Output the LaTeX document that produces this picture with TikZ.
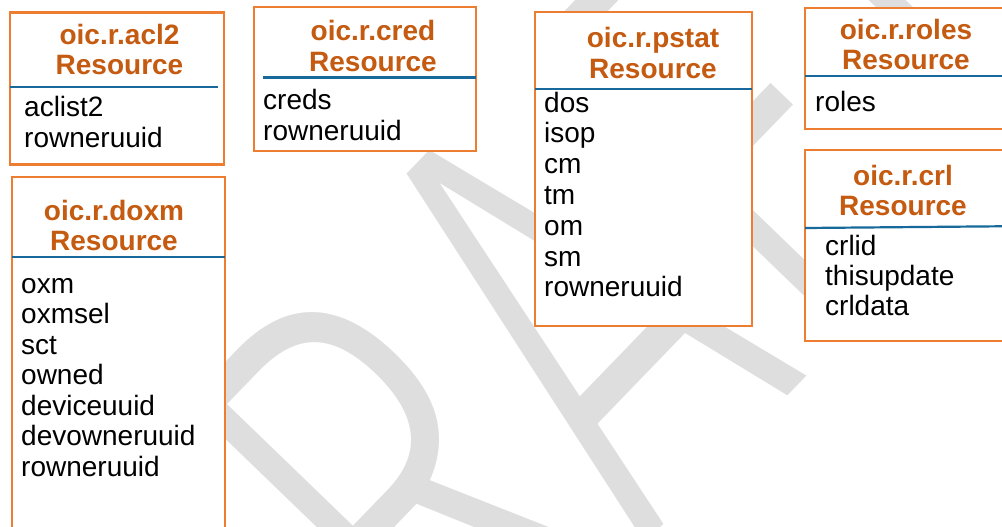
\documentclass[tikz,border=0pt]{standalone}
\usepackage{fontspec}
\setmainfont{Liberation Sans}
\newfontfamily\draftfont{Fira Sans Light}
\usepackage{tikz}
\usepackage{xcolor}
\definecolor{boxline}{HTML}{ED7D31}
\definecolor{titletext}{HTML}{C55A11}
\definecolor{divline}{HTML}{17699B}
\definecolor{draftgray}{HTML}{DEDEDE}

\begin{document}
\begin{tikzpicture}[
    x=1pt, y=-1pt,
    resbox/.style={draw=boxline, line width=2.5pt, fill=white, anchor=north west, inner sep=0, outer sep=0},
    restitle/.style={anchor=base, inner sep=0, text=titletext, font=\fontsize{28}{30}\selectfont\bfseries},
    resitem/.style={anchor=base west, inner sep=0, font=\fontsize{28}{30}\selectfont},
    divider/.style={draw=divline, line width=2.2pt},
    draftmark/.style={inner sep=0, text=draftgray, font=\draftfont\fontsize{625}{625}\selectfont}
]
\useasboundingbox (0,0) rectangle (1002,527);
\clip (0,0) rectangle (1002,527);

% watermark, behind everything
\node[draftmark, rotate=46, xscale=0.7] (draft) at (535,350) {DRAFT};

% acl2
\node[resbox, minimum width=214pt, minimum height=152pt] (acl2) at (10,12.5) {};
\node[restitle] (acl2-name) at (119.5,45) {oic.r.acl2};
\node[restitle] (acl2-res) at (119.5,75) {Resource};
\draw[divider] (10,87) -- (218,87);
\foreach \prop [count=\i] in {aclist2, rowneruuid}
    \node[resitem] (acl2-\i) at (24, 87+30*\i) {\prop};

% cred
\node[resbox, minimum width=222pt, minimum height=144pt] (cred) at (254,7) {};
\node[restitle] (cred-name) at (373,40.7) {oic.r.cred};
\node[restitle] (cred-res) at (373,71.7) {Resource};
\draw[divider] (263,77.5) -- (476,77.5);
\foreach \prop [count=\i] in {creds, rowneruuid}
    \node[resitem] (cred-\i) at (263, 80+30*\i) {\prop};

% pstat
\node[resbox, minimum width=217pt, minimum height=314pt] (pstat) at (535,12) {};
\node[restitle] (pstat-name) at (653,47.3) {oic.r.pstat};
\node[restitle] (pstat-res) at (653,79) {Resource};
\draw[divider] (535,89) -- (752,89);
\foreach \prop [count=\i] in {dos, isop, cm, tm, om, sm, rowneruuid}
    \node[resitem] (pstat-\i) at (544, 81.2+30.8*\i) {\prop};

% roles
\node[resbox, minimum width=230pt, minimum height=121pt] (roles) at (805,8) {};
\node[restitle] (roles-name) at (906,39.3) {oic.r.roles};
\node[restitle] (roles-res) at (906,69.3) {Resource};
\draw[divider] (805,76) -- (1035,76);
\node[resitem] (roles-1) at (815,111) {roles};

% crl
\node[resbox, minimum width=230pt, minimum height=191pt] (crl) at (805,150) {};
\node[restitle] (crl-name) at (903,185) {oic.r.crl};
\node[restitle] (crl-res) at (903,215) {Resource};
\draw[divider] (805,228) -- (1035,226);
\foreach \prop [count=\i] in {crlid, thisupdate, crldata}
    \node[resitem] (crl-\i) at (825, 225+30*\i) {\prop};

% doxm
\node[resbox, minimum width=213pt, minimum height=380pt] (doxm) at (12,177) {};
\node[restitle] (doxm-name) at (114,220) {oic.r.doxm};
\node[restitle] (doxm-res) at (114,250) {Resource};
\draw[divider] (12,257) -- (225,257);
\foreach \prop [count=\i] in {oxm, oxmsel, sct, owned, deviceuuid, devowneruuid, rowneruuid}
    \node[resitem] (doxm-\i) at (21, 262.5+30.5*\i) {\prop};
\end{tikzpicture}
\end{document}
